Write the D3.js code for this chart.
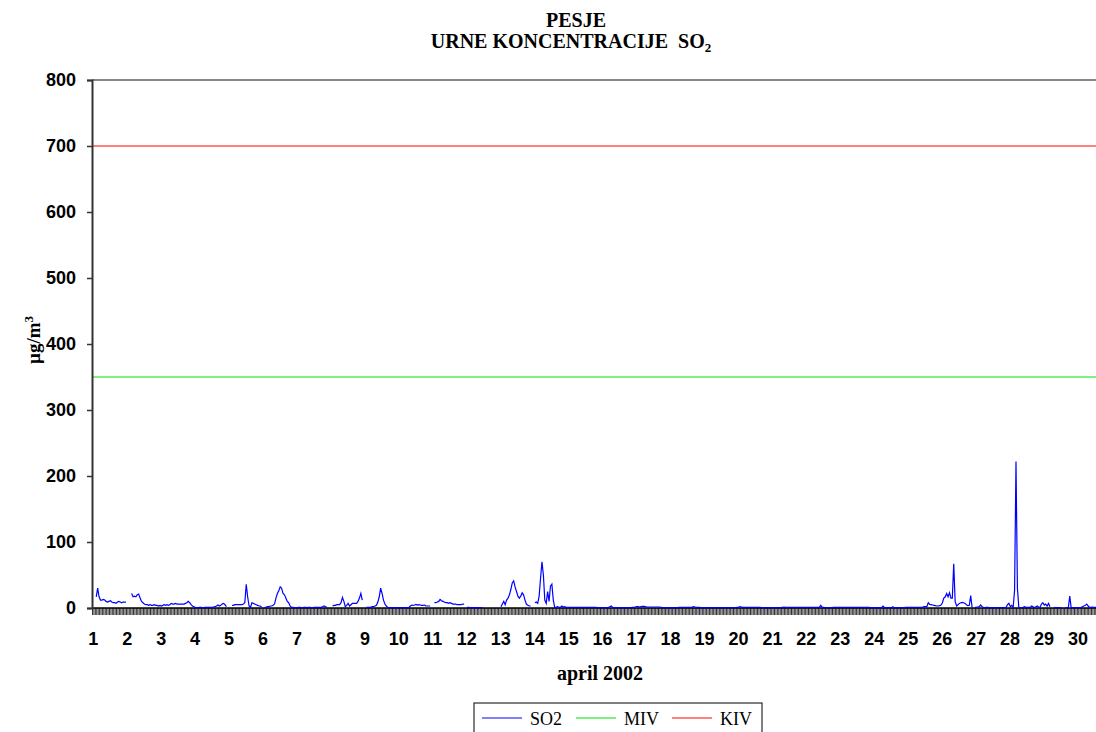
<!DOCTYPE html>
<html>
<head>
<meta charset="utf-8">
<script src="https://d3js.org/d3.v7.min.js"></script>
<style>
body { margin: 0; background: #fff; }
</style>
</head>
<body>
<div id="chart-area"></div>
<script>
var width = 1096;
var height = 732;

// hourly SO2 values, one row per day of april 2002 (null = no measurement)
var so2Days = [
    [null, null, 17, 30, 17, 12, 12, 13, 12, 10, 9, 10, 11, 9, 8, 8, 7, 9, 10, 9, 8, 9, 9, 9],
    [null, null, null, 22, 17, 18, 17, 20, 21, 15, 10, 8, 6, 5, 5, 4, 5, 4, 4, 5, 4, 4, 3, 4],
    [3, 4, 5, 4, 5, 4, 5, 7, 6, 6, 7, 6, 6, 6, 6, 6, 6, 7, 8, 10, 8, 5, 3, 2],
    [1, 0.5, 0.5, 1, 1, 0.5, 0.5, 1, 1, 1, 1, 1, 1, 1.5, 2, 3, 4.5, 3, 4, 6, 7, 5, 2, null],
    [null, null, 4, 4, 5, 5, 5, 5, 5, 5, 6, 8, 36, 17, 3, 1, 8, 7, 6, 5, 4, 3, 3, 1],
    [null, 1, 1, 2, 2, 3, 3, 4, 6, 15, 22, 26, 32, 30, 22, 20, 15, 10, 8, 3, 1, 1, 0.5, 0.5],
    [0.5, 1, 1, 0.5, 0.5, 1, 1, 0.5, 1, 1, 0.5, 0.5, 1, 1, 1, 1, 1, 1, 2, 3, 2, 1, null, null],
    [null, 3, 4, 4, 5, 5, 5, 8, 16, 10, 2, 4, 7, 3, 5, 7, 7, 7, 7, 10, 15, 22, 12, null],
    [null, 1, 1, 1, 1, 2, 2, 3, 4, 9, 17, 30, 22, 12, 6, 3, 1, 0.5, 0.5, 0.5, 0.5, 0.5, 0.5, 0.5],
    [0.5, 0.5, 0.5, 0.5, 0.5, 0.5, 0.5, 1, 3, 4.5, 4, 4.5, 5.5, 4.5, 5, 4.5, 4, 4, 4.5, 3, 3, 3, 3, null],
    [null, 8, 8, 9, 10, 13, 11, 10, 9, 8, 8, 7, 8, 7, 6, 6, 6, 5, 5, 5, 5, 6, 6, null],
    [1, 1, 0.5, 0.5, 0.5, 0.5, 0.5, 0.5, 0.5, 0.5, 0.5, 0.5, null, null, null, null, null, null, null, null, null, null, null, null],
    [2, 6, 10, 5, 12, 15, 20, 28, 38, 41, 32, 25, 18, 15, 18, 23, 20, 12, 6, 4, 3, 3, null, null],
    [8, 9, 7, 18, 45, 70, 50, 12, 7, 25, 10, 33, 36, 12, 1, 1, 2, 1, 1, 3, 1.5, 2, 1, 1],
    [1, 1, 1, 1, 1, 1, 1, 1, 1, 1, 1, 1, 1, 1, 1, 1, 1, 1, 1, 1, 0.5, 0.5, 0.5, 0.5],
    [0.5, 0.5, 0.5, 0.5, 1, 2, 3, 1, 0.5, 0.5, 0.5, 0.5, 0.5, 0.5, 0.5, 0.5, 0.5, 0.5, 0.5, 0.5, 0.5, 1, 1, 1.5],
    [2, 2, 1.5, 2, 2.5, 2.5, 2, 1.5, 1.5, 1.5, 1.5, 1.5, 1.5, 1.5, 1.5, 1.5, 1.5, 1, 0.5, 0.5, 0.5, 0.5, 0.5, 0.5],
    [0.5, 0.5, 0.5, 0.5, 0.5, 0.5, 1, 1, 1, 1, 1, 1, 1, 1, 1, 1, 2, 1.5, 1, 1, 1, 0.5, 0.5, 0.5],
    [0.5, 0.5, 0.5, 0.5, 0.5, 0.5, 0.5, 0.5, 0.5, 0.5, 0.5, 0.5, 0.5, 0.5, 0.5, 0.5, 0.5, 0.5, 0.5, 0.5, 0.5, 0.5, 0.5, 1],
    [1, 2, 1.5, 1, 1, 1, 1, 1, 1, 1, 1, 1, 1, 1, 1, 1, 0.5, 0.5, 0.5, 0.5, 0.5, 0.5, 0.5, 0.5],
    [0.5, 0.5, 0.5, 0.5, 0.5, 0.5, 0.5, 1, 1.5, 1, 1, 1, 1, 1, 1, 1, 1, 1, 1, 1, 1, 1, 1, 1],
    [1, 1, 1, 1, 1, 1, 1, 1, 1, 1, 4, 1, 1, 0.5, 0.5, 0.5, 0.5, 0.5, 0.5, 1, 1, 1, 1, 1],
    [1, 1, 1, 1, 1, 1, 1, 1, 1, 1, 1, 1, 1, 1, 1, 1, 1, 1, 1, 1, 1, 0.5, 0.5, 0.5],
    [0.5, 0.5, 0.5, 0.5, 0.5, 0.5, 3, 1, 0.5, 0.5, 0.5, 0.5, 0.5, 2, 0.5, 0.5, 0.5, 0.5, 0.5, 0.5, 0.5, 0.5, 1, 1],
    [1, 1, 1, 1, 1, 1, 1, 1, 1, 1, 1, 2, 2, 2, 8, 5.5, 5, 4.5, 4, 3.5, 3, 3, 3.5, 4.5],
    [8, 15, 17, 22, 17, 23, 15, 15, 67, 10, 3, 5, 7, 8, 8.5, 8, 7, 5, 3.5, 4, 19, 0.5, null, 1],
    [1, 1.5, 2, 4.5, 2, 1, 0.5, 1, 1, 0.5, 0.5, 0.5, 0.5, 0.5, 0.5, 0.5, 0.5, 0.5, 0.5, 0.5, 0.5, 1, 5, 7],
    [2, 4, 1, 27, 222, 30, 1, 0.5, 0.5, 1, 2, 1, 1, 1, 1, 3, 2, 0.5, 2, 3, 1.5, 1, 6, 8],
    [4.5, 6, 3, 7, 2, null, null, 1, 0.5, 0.5, 0.5, 0.5, 0.5, null, null, 0.5, 0.5, 0.5, 18, 0.5, 0.5, 0.5, 0.5, 0.5],
    [0.5, 0.5, 1, 2, 3, 4, 6, 3, 1, 1, 1.5, 1, 1, 1, 1, 1, 1, 1, 1, 1, 1, 1, 1, 1]
];

var days = d3.range(1, 31);
var yTicks = [0, 100, 200, 300, 400, 500, 600, 700, 800];
var MIV = 350;
var KIV = 700;
var seriesNames = ["SO2", "MIV", "KIV"];
var seriesColors = ["#0000ff", "#00e000", "#ff0000"];

// flatten days into one hourly list
var so2 = [];
so2Days.forEach(function(day){
    day.forEach(function(v){ so2.push(v); });
});
var hours = so2.length;

var plotLeft = 92, plotTop = 80, plotBottom = 608;

var svg = d3.select("#chart-area").append("svg")
    .attr("width", width)
    .attr("height", height)
    .style("display", "block");

svg.append("rect")
    .attr("width", width)
    .attr("height", height)
    .attr("fill", "#fff");

var scaleX = d3.scaleLinear()
    .domain([0, hours])
    .range([plotLeft, plotLeft + hours * 1.415]);

var scaleY = d3.scaleLinear()
    .domain([0, 800])
    .range([plotBottom, plotTop]);

//top border of plot area
svg.append("line")
    .attr("x1", plotLeft)
    .attr("x2", scaleX(hours))
    .attr("y1", scaleY(800))
    .attr("y2", scaleY(800))
    .attr("stroke", "#888")
    .attr("stroke-width", 2);

//limit lines
svg.append("line")
    .attr("x1", plotLeft)
    .attr("x2", scaleX(hours))
    .attr("y1", scaleY(MIV))
    .attr("y2", scaleY(MIV))
    .attr("stroke", seriesColors[1])
    .attr("stroke-width", 1.2);

svg.append("line")
    .attr("x1", plotLeft)
    .attr("x2", scaleX(hours))
    .attr("y1", scaleY(KIV))
    .attr("y2", scaleY(KIV))
    .attr("stroke", seriesColors[2])
    .attr("stroke-width", 1.2);

//hour ticks (the dense comb)
var hourAxis = d3.axisBottom(scaleX)
    .tickValues(d3.range(0, hours + 1))
    .tickSize(7)
    .tickFormat("");

var gHours = svg.append("g")
    .attr("transform", "translate(0," + plotBottom + ")")
    .call(hourAxis);
gHours.selectAll(".tick line").attr("stroke", "#333").attr("stroke-width", 1);
gHours.select(".domain").remove();

//day labels
var dayAxis = d3.axisBottom(scaleX)
    .tickValues(days.map(function(d){ return (d - 1) * 24 + 0.5; }))
    .tickSize(0)
    .tickPadding(24)
    .tickFormat(function(d, i){ return days[i]; });

var gDays = svg.append("g")
    .attr("transform", "translate(0," + plotBottom + ")")
    .call(dayAxis);
gDays.select(".domain").remove();
gDays.selectAll("text")
    .attr("font-family", "'Liberation Sans', Arial, sans-serif")
    .attr("font-weight", "bold")
    .attr("font-size", "18px")
    .attr("fill", "#000");

//x axis line
svg.append("line")
    .attr("x1", plotLeft)
    .attr("x2", scaleX(hours))
    .attr("y1", plotBottom)
    .attr("y2", plotBottom)
    .attr("stroke", "#000")
    .attr("stroke-width", 1.5);

//y axis
var y_axis = d3.axisLeft(scaleY)
    .tickValues(yTicks)
    .tickSize(5)
    .tickPadding(11);

var gY = svg.append("g")
    .attr("transform", "translate(" + plotLeft + ",0)")
    .call(y_axis);
gY.select(".domain").attr("stroke", "#333").attr("stroke-width", 2);
gY.selectAll(".tick line").attr("stroke", "#333").attr("stroke-width", 1.5);
gY.selectAll("text")
    .attr("font-family", "'Liberation Sans', Arial, sans-serif")
    .attr("font-weight", "bold")
    .attr("font-size", "18px")
    .attr("fill", "#000");

//SO2 line
var line = d3.line()
    .defined(function(d){ return d != null; })
    .x(function(d, i){ return scaleX(i + 1); })
    .y(function(d){ return scaleY(d); });

svg.append("path")
    .datum(so2)
    .attr("d", line)
    .attr("fill", "none")
    .attr("stroke", seriesColors[0])
    .attr("stroke-width", 1.2);

//titles
var serif = "'Liberation Serif', 'Times New Roman', serif";

svg.append("text")
    .text("PESJE")
    .attr("x", 576)
    .attr("y", 27)
    .attr("text-anchor", "middle")
    .attr("font-family", serif)
    .attr("font-weight", "bold")
    .attr("font-size", "20px");

var t2 = svg.append("text")
    .attr("x", 571)
    .attr("y", 48)
    .attr("text-anchor", "middle")
    .attr("font-family", serif)
    .attr("font-weight", "bold")
    .attr("font-size", "20px")
    .attr("xml:space", "preserve");
t2.append("tspan").text("URNE KONCENTRACIJE  SO");
t2.append("tspan").text("2").attr("font-size", "13px").attr("dy", 4);

svg.append("text")
    .text("april 2002")
    .attr("x", 600)
    .attr("y", 680)
    .attr("text-anchor", "middle")
    .attr("font-family", serif)
    .attr("font-weight", "bold")
    .attr("font-size", "20px");

var yl = svg.append("text")
    .attr("transform", "translate(40,340) rotate(-90)")
    .attr("text-anchor", "middle")
    .attr("font-family", serif)
    .attr("font-weight", "bold")
    .attr("font-size", "19px");
yl.append("tspan").text("µg/m");
yl.append("tspan").text("3").attr("font-size", "13px").attr("dy", -7);

//legend
var legend = svg.append("g").attr("transform", "translate(474,703)");
legend.append("rect")
    .attr("width", 288)
    .attr("height", 40)
    .attr("fill", "#fff")
    .attr("stroke", "#000")
    .attr("stroke-width", 1);

var legendX = [8, 102, 198];
seriesNames.forEach(function(name, i){
    legend.append("line")
        .attr("x1", legendX[i])
        .attr("x2", legendX[i] + 40)
        .attr("y1", 15)
        .attr("y2", 15)
        .attr("stroke", seriesColors[i])
        .attr("stroke-width", 1.2);
    legend.append("text")
        .text(name)
        .attr("x", legendX[i] + 48)
        .attr("y", 22)
        .attr("font-family", serif)
        .attr("font-size", "18px");
});
</script>
</body>
</html>
